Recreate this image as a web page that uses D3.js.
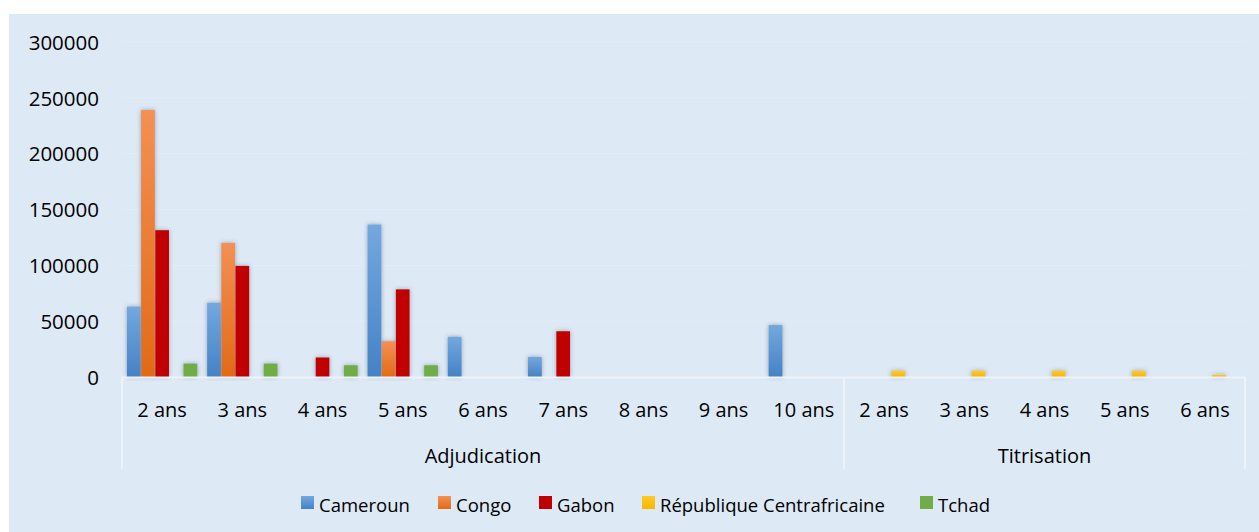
<!DOCTYPE html>
<html><head><meta charset="utf-8">
<script src="https://cdn.jsdelivr.net/npm/d3@7"></script>
<style>
html,body{margin:0;padding:0;background:#fff;}
svg{display:block;}
text{font-family:"Open Sans","Noto Sans",sans-serif;fill:#000;}
</style></head>
<body>
<svg id="chart" width="1259" height="532"></svg>
<script>
const categories = ["2 ans","3 ans","4 ans","5 ans","6 ans","7 ans","8 ans","9 ans","10 ans","2 ans","3 ans","4 ans","5 ans","6 ans"];
const groupNames = ["Adjudication","Titrisation"];
const groupOf = [0,0,0,0,0,0,0,0,0,1,1,1,1,1];
const seriesNames = ["Cameroun","Congo","Gabon","République Centrafricaine","Tchad"];
const cameroun = [63000,66500,null,136500,36000,18000,null,null,46500,null,null,null,null,null];
const congo    = [239000,120000,null,32000,null,null,null,null,null,null,null,null,null,null];
const gabon    = [131500,99500,17500,78500,null,41000,null,null,null,null,null,null,null,null];
const rca      = [null,null,null,null,null,null,null,null,null,5500,5500,5500,5500,2000];
const tchad    = [12000,12000,10500,10500,null,null,null,null,null,null,null,null,null,null];
const yTicks = [0,50000,100000,150000,200000,250000,300000];

const seriesValues = [cameroun, congo, gabon, rca, tchad];
const colors = [
  {top:"#74a8de", bot:"#4482c6"},
  {top:"#f39055", bot:"#e26a16"},
  {top:"#c00000", bot:"#c00000"},
  {top:"#ffc82a", bot:"#f5b800"},
  {top:"#70ad47", bot:"#70ad47"}
];

const svg = d3.select("#chart");
const W = 1259, H = 532;
svg.append("rect").attr("x",9).attr("y",14).attr("width",W-9).attr("height",H-14).attr("fill","#dde9f5");

const defs = svg.append("defs");
colors.forEach((c,i)=>{
  const g = defs.append("linearGradient").attr("id","grad"+i).attr("x1",0).attr("y1",0).attr("x2",0).attr("y2",1);
  g.append("stop").attr("offset","0%").attr("stop-color",c.top);
  g.append("stop").attr("offset","100%").attr("stop-color",c.bot);
});
const f = defs.append("filter").attr("id","shadow").attr("x","-50%").attr("y","-10%").attr("width","200%").attr("height","120%");
f.append("feDropShadow").attr("dx",0).attr("dy",0).attr("stdDeviation",2.2).attr("flood-color","#3a4a5a").attr("flood-opacity",0.45);

const x0 = 122, x1 = 1245, yTop = 42, yBase = 377;
const x = d3.scaleBand().domain(d3.range(categories.length)).range([x0,x1]).padding(0);
const xs = d3.scaleBand().domain(d3.range(seriesNames.length)).range([0,x.bandwidth()]).paddingInner(0.03).paddingOuter(0.35);
const y = d3.scaleLinear().domain([0,300000]).range([yBase,yTop]);

// gridlines
svg.append("g").selectAll("line").data(yTicks.filter(t=>t>0)).join("line")
  .attr("x1",x0).attr("x2",x1).attr("y1",d=>y(d)).attr("y2",d=>y(d))
  .attr("stroke","#e2ecf7").attr("stroke-width",1);

// y axis labels
const yAxis = d3.axisLeft(y).tickValues(yTicks).tickSize(0).tickPadding(0).tickFormat(d3.format("d"));
const yg = svg.append("g").attr("transform","translate(99,0)").call(yAxis);
yg.select(".domain").remove();
yg.selectAll("text").style("font-size","20.5px").attr("fill","#000").attr("dy","0.35em");

// bars
const barData = [];
seriesValues.forEach((vals,si)=>vals.forEach((v,ci)=>{ if(v!=null) barData.push({si,ci,v}); }));
svg.append("g").attr("filter","url(#shadow)").selectAll("rect").data(barData).join("rect")
  .attr("x",d=>x(d.ci)+xs(d.si))
  .attr("width",xs.bandwidth())
  .attr("y",d=>y(d.v))
  .attr("height",d=>yBase-y(d.v))
  .attr("fill",d=>"url(#grad"+d.si+")");

// category axis
const axisCol = "#eef3fa";
svg.append("line").attr("x1",x0).attr("x2",x1).attr("y1",yBase+0.5).attr("y2",yBase+0.5).attr("stroke",axisCol).attr("stroke-width",2);
const bounds = [0];
for(let i=1;i<groupOf.length;i++) if(groupOf[i]!==groupOf[i-1]) bounds.push(i);
bounds.push(groupOf.length);
svg.append("g").selectAll("line").data(bounds).join("line")
  .attr("x1",d=>d<categories.length?x(d):x1).attr("x2",d=>d<categories.length?x(d):x1)
  .attr("y1",yBase).attr("y2",469).attr("stroke",axisCol).attr("stroke-width",2);

const xAxis = d3.axisBottom(x).tickSize(0).tickPadding(0).tickFormat(i=>categories[i]);
const xg = svg.append("g").attr("transform","translate(0,"+yBase+")").call(xAxis);
xg.select(".domain").remove();
xg.selectAll("text").style("font-size","20px").attr("fill","#000").attr("y",40).attr("dy",0);

// group labels
const groupCenters = groupNames.map((g,gi)=>{
  const idx = d3.range(categories.length).filter(i=>groupOf[i]===gi);
  return {name:g, cx:(x(idx[0]) + x(idx[idx.length-1])+x.bandwidth())/2};
});
svg.append("g").selectAll("text").data(groupCenters).join("text")
  .attr("x",d=>d.cx).attr("y",463).attr("text-anchor","middle").style("font-size","20px").text(d=>d.name);

// legend
const legendX = [301,438,539,642,920];
const lg = svg.append("g").selectAll("g").data(seriesNames).join("g")
  .attr("transform",(d,i)=>"translate("+legendX[i]+",496)");
lg.append("rect").attr("width",13).attr("height",13).attr("fill",(d,i)=>"url(#grad"+i+")");
lg.append("text").attr("x",18).attr("y",16).style("font-size","18.5px").text(d=>d);
</script>
</body></html>
